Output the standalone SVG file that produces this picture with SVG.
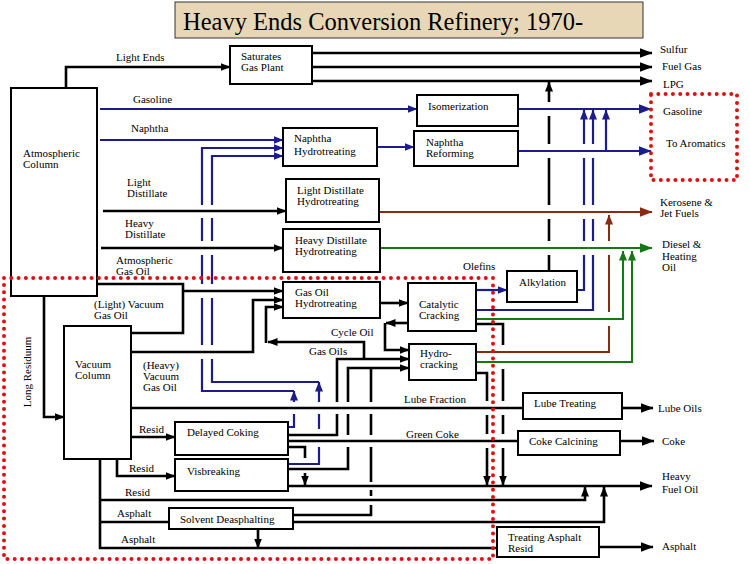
<svg xmlns="http://www.w3.org/2000/svg" width="750" height="564" viewBox="0 0 750 564">
<style>
text{font-family:"Liberation Serif","Times New Roman",serif;font-size:11px;fill:#000}
.title{font-size:24.5px}
.box{fill:#fff;stroke:#000;stroke-width:2}
.k{fill:none;stroke:#000;stroke-width:2.6}
.b{fill:none;stroke:#1c1c8c;stroke-width:2.2}
.r{fill:none;stroke:#8b2a10;stroke-width:2}
.g{fill:none;stroke:#137a13;stroke-width:2}
.dot{fill:none;stroke:#e01010;stroke-width:4;stroke-linecap:round;stroke-dasharray:0 7.3}
.ka{marker-end:url(#mk)} .kL{marker-end:url(#mkL)}
.ba{marker-end:url(#mu)} .bL{marker-end:url(#muL)}
.ra{marker-end:url(#mr)} .rL{marker-end:url(#mrL)}
.ga{marker-end:url(#mg)} .gL{marker-end:url(#mgL)}
</style>
<defs>
<marker id="mk" viewBox="0 0 10 8" refX="9.5" refY="4" markerWidth="10" markerHeight="8" orient="auto" markerUnits="userSpaceOnUse"><path d="M0,0L10,4L0,8z" fill="#000"/></marker>
<marker id="mkL" viewBox="0 0 13 10" refX="12.5" refY="5" markerWidth="13" markerHeight="10" orient="auto" markerUnits="userSpaceOnUse"><path d="M0,0L13,5L0,10z" fill="#000"/></marker>
<marker id="mu" viewBox="0 0 10 8" refX="9.5" refY="4" markerWidth="10" markerHeight="8" orient="auto" markerUnits="userSpaceOnUse"><path d="M0,0L10,4L0,8z" fill="#1c1c8c"/></marker>
<marker id="muL" viewBox="0 0 13 10" refX="12.5" refY="5" markerWidth="13" markerHeight="10" orient="auto" markerUnits="userSpaceOnUse"><path d="M0,0L13,5L0,10z" fill="#1c1c8c"/></marker>
<marker id="mr" viewBox="0 0 10 8" refX="9.5" refY="4" markerWidth="10" markerHeight="8" orient="auto" markerUnits="userSpaceOnUse"><path d="M0,0L10,4L0,8z" fill="#8b2a10"/></marker>
<marker id="mrL" viewBox="0 0 13 10" refX="12.5" refY="5" markerWidth="13" markerHeight="10" orient="auto" markerUnits="userSpaceOnUse"><path d="M0,0L13,5L0,10z" fill="#8b2a10"/></marker>
<marker id="mg" viewBox="0 0 10 8" refX="9.5" refY="4" markerWidth="10" markerHeight="8" orient="auto" markerUnits="userSpaceOnUse"><path d="M0,0L10,4L0,8z" fill="#137a13"/></marker>
<marker id="mgL" viewBox="0 0 13 10" refX="12.5" refY="5" markerWidth="13" markerHeight="10" orient="auto" markerUnits="userSpaceOnUse"><path d="M0,0L13,5L0,10z" fill="#137a13"/></marker>
</defs>
<rect width="750" height="564" fill="#fff"/>

<g id="title">
<rect x="175" y="2" width="468" height="36" fill="#e7d7b6" stroke="#333" stroke-width="1"/>
<text class="title" x="183" y="30">Heavy Ends Conversion Refinery; 1970-</text>
</g>

<g id="connectors">
<!-- black -->
<path class="k ka" d="M66,88V67H230"/>
<path class="k kL" d="M312,53H652"/>
<path class="k kL" d="M312,67H652"/>
<path class="k kL" d="M312,81H652"/>
<path class="k ka" d="M103,211H286"/>
<path class="k ka" d="M101,248H283"/>
<path class="k" d="M97,284H183V333H131"/>
<path class="k ka" d="M183,291H283"/>
<path class="k ka" d="M131,352H253V300H283"/>
<path class="k ka" d="M364,359V342H268"/>
<path class="k ka" d="M266,343V307H283"/>
<path class="k ka" d="M380,303H408"/>
<path class="k ka" d="M408,323H386"/>
<path class="k ka" d="M385,323V350H409"/>
<path class="k" d="M288,435H337V414"/>
<path class="k ka" d="M337,402V359H409"/>
<path class="k" d="M288,469H348V447"/>
<path class="k" d="M348,435V414"/>
<path class="k ka" d="M348,402V368H409"/>
<path class="k" d="M293,515H371V505"/>
<path class="k" d="M371,496V490"/>
<path class="k" d="M371,482V447"/>
<path class="k" d="M371,435V414"/>
<path class="k" d="M371,402V368"/>
<path class="k" d="M131,408H523"/>
<path class="k ka" d="M131,437H175"/>
<path class="k ka" d="M117,459V476H175"/>
<path class="k ka" d="M44,296V417H64"/>
<path class="k" d="M100,459V548H497"/>
<path class="k ka" d="M100,500H585V487"/>
<path class="k" d="M100,522H169"/>
<path class="k ka" d="M293,522H604V487"/>
<path class="k ka" d="M258,529V548"/>
<path class="k" d="M288,441H518"/>
<path class="k kL" d="M620,441H654"/>
<path class="k kL" d="M622,408H653"/>
<path class="k kL" d="M288,486H652"/>
<path class="k" d="M288,447H305V458"/>
<path class="k ka" d="M305,473V485"/>
<path class="k" d="M476,324H503V345"/>
<path class="k" d="M503,369V401"/>
<path class="k" d="M503,415V434"/>
<path class="k ka" d="M503,448V485"/>
<path class="k" d="M476,373H487V401"/>
<path class="k" d="M487,415V434"/>
<path class="k ka" d="M487,448V485"/>
<path class="k" d="M549,271V255"/>
<path class="k" d="M549,241V219"/>
<path class="k" d="M549,205V158"/>
<path class="k" d="M549,144V116"/>
<path class="k ka" d="M549,102V82"/>
<path class="k kL" d="M599,547H653"/>
<!-- blue -->
<path class="b ba" d="M100,109H417"/>
<path class="b bL" d="M518,109H651"/>
<path class="b ba" d="M100,140H283"/>
<path class="b ba" d="M377,147H414"/>
<path class="b bL" d="M518,151H651"/>
<path class="b ba" d="M606,151V110"/>
<path class="b ba" d="M202,205V148H283"/>
<path class="b" d="M202,218V241"/>
<path class="b" d="M202,255V284"/>
<path class="b" d="M202,298V345"/>
<path class="b" d="M202,359V391H294"/>
<path class="b ba" d="M212,205V156H283"/>
<path class="b" d="M212,218V241"/>
<path class="b" d="M212,255V284"/>
<path class="b" d="M212,298V345"/>
<path class="b" d="M212,359V382H319"/>
<path class="b" d="M288,427H294V414"/>
<path class="b ba" d="M294,402V391"/>
<path class="b" d="M288,464H319V447"/>
<path class="b" d="M319,429V414"/>
<path class="b ba" d="M319,402V382"/>
<path class="b ba" d="M476,290H507"/>
<path class="b" d="M577,290H584V255"/>
<path class="b" d="M584,241V219"/>
<path class="b" d="M584,205V158"/>
<path class="b ba" d="M584,144V110"/>
<path class="b" d="M476,310H593V255"/>
<path class="b" d="M593,241V219"/>
<path class="b" d="M593,205V158"/>
<path class="b ba" d="M593,144V110"/>
<!-- brown -->
<path class="r rL" d="M379,212H652"/>
<path class="r" d="M476,352H609V326"/>
<path class="r" d="M609,312V255"/>
<path class="r ra" d="M609,241V215"/>
<!-- green -->
<path class="g gL" d="M380,248H652"/>
<path class="g ga" d="M476,319H623V251"/>
<path class="g ga" d="M476,362H632V251"/>
</g>

<g id="atmospheric-column"><rect class="box" x="11" y="88" width="86" height="208"/><text x="23" y="157">Atmospheric</text><text x="23" y="168">Column</text></g>
<g id="saturates-gas-plant"><rect class="box" x="230" y="46" width="82" height="38"/><text x="241" y="60">Saturates</text><text x="241" y="71">Gas Plant</text></g>
<g id="isomerization"><rect class="box" x="417" y="95" width="101" height="31"/><text x="428" y="110">Isomerization</text></g>
<g id="naphtha-hydrotreating"><rect class="box" x="283" y="128" width="94" height="38"/><text x="294" y="142">Naphtha</text><text x="294" y="155">Hydrotreating</text></g>
<g id="naphtha-reforming"><rect class="box" x="414" y="131" width="104" height="35"/><text x="426" y="146">Naphtha</text><text x="426" y="157">Reforming</text></g>
<g id="light-distillate-hydrotreating"><rect class="box" x="286" y="179" width="93" height="43"/><text x="297" y="194">Light Distillate</text><text x="297" y="205">Hydrotreating</text></g>
<g id="heavy-distillate-hydrotreating"><rect class="box" x="283" y="229" width="97" height="43"/><text x="295" y="244">Heavy Distillate</text><text x="295" y="255">Hydrotreating</text></g>
<g id="gas-oil-hydrotreating"><rect class="box" x="283" y="282" width="97" height="36"/><text x="295" y="296">Gas Oil</text><text x="295" y="307">Hydrotreating</text></g>
<g id="catalytic-cracking"><rect class="box" x="408" y="283" width="68" height="48"/><text x="419" y="308">Catalytic</text><text x="419" y="319">Cracking</text></g>
<g id="hydrocracking"><rect class="box" x="409" y="344" width="67" height="36"/><text x="420" y="357">Hydro-</text><text x="420" y="368">cracking</text></g>
<g id="alkylation"><rect class="box" x="507" y="271" width="70" height="31"/><text x="519" y="286">Alkylation</text></g>
<g id="vacuum-column"><rect class="box" x="64" y="326" width="67" height="133"/><text x="75" y="368">Vacuum</text><text x="75" y="379">Column</text></g>
<g id="delayed-coking"><rect class="box" x="175" y="422" width="113" height="33"/><text x="187" y="436">Delayed Coking</text></g>
<g id="visbreaking"><rect class="box" x="175" y="459" width="113" height="32"/><text x="187" y="475">Visbreaking</text></g>
<g id="solvent-deasphalting"><rect class="box" x="169" y="508" width="124" height="21"/><text x="180" y="523">Solvent Deasphalting</text></g>
<g id="lube-treating"><rect class="box" x="523" y="393" width="99" height="26"/><text x="534" y="407">Lube Treating</text></g>
<g id="coke-calcining"><rect class="box" x="518" y="431" width="102" height="24"/><text x="529" y="445">Coke Calcining</text></g>
<g id="treating-asphalt-resid"><rect class="box" x="497" y="527" width="102" height="30"/><text x="508" y="541">Treating Asphalt</text><text x="508" y="552">Resid</text></g>

<g id="labels">
<text x="116" y="61">Light Ends</text>
<text x="660" y="53">Sulfur</text>
<text x="662" y="70">Fuel Gas</text>
<text x="663" y="88">LPG</text>
<text x="133" y="103">Gasoline</text>
<text x="663" y="115">Gasoline</text>
<text x="131" y="132">Naphtha</text>
<text x="666" y="147">To Aromatics</text>
<text x="127" y="186">Light</text><text x="127" y="197">Distillate</text>
<text x="125" y="227">Heavy</text><text x="125" y="238">Distillate</text>
<text x="660" y="206">Kerosene &amp;</text><text x="660" y="217">Jet Fuels</text>
<text x="662" y="248">Diesel &amp;</text><text x="662" y="260">Heating</text><text x="662" y="271">Oil</text>
<text x="116" y="264">Atmospheric</text><text x="116" y="275">Gas Oil</text>
<text x="463" y="270">Olefins</text>
<text x="94" y="308">(Light) Vacuum</text><text x="94" y="319">Gas Oil</text>
<text x="331" y="336">Cycle Oil</text>
<text x="309" y="355">Gas Oils</text>
<text x="143" y="369">(Heavy)</text><text x="143" y="380">Vacuum</text><text x="143" y="391">Gas Oil</text>
<text transform="translate(31,372) rotate(-90)" text-anchor="middle">Long Residuum</text>
<text x="404" y="403">Lube Fraction</text>
<text x="658" y="412">Lube Oils</text>
<text x="139" y="433">Resid</text>
<text x="406" y="438">Green Coke</text>
<text x="662" y="445">Coke</text>
<text x="129" y="472">Resid</text>
<text x="662" y="480">Heavy</text><text x="662" y="493">Fuel Oil</text>
<text x="125" y="496">Resid</text>
<text x="117" y="517">Asphalt</text>
<text x="121" y="543">Asphalt</text>
<text x="662" y="550">Asphalt</text>
</g>

<g id="highlights">
<path class="dot" d="M4,278H493V559H4Z"/>
<path class="dot" d="M651,94H737V180H651Z"/>
</g>
</svg>
